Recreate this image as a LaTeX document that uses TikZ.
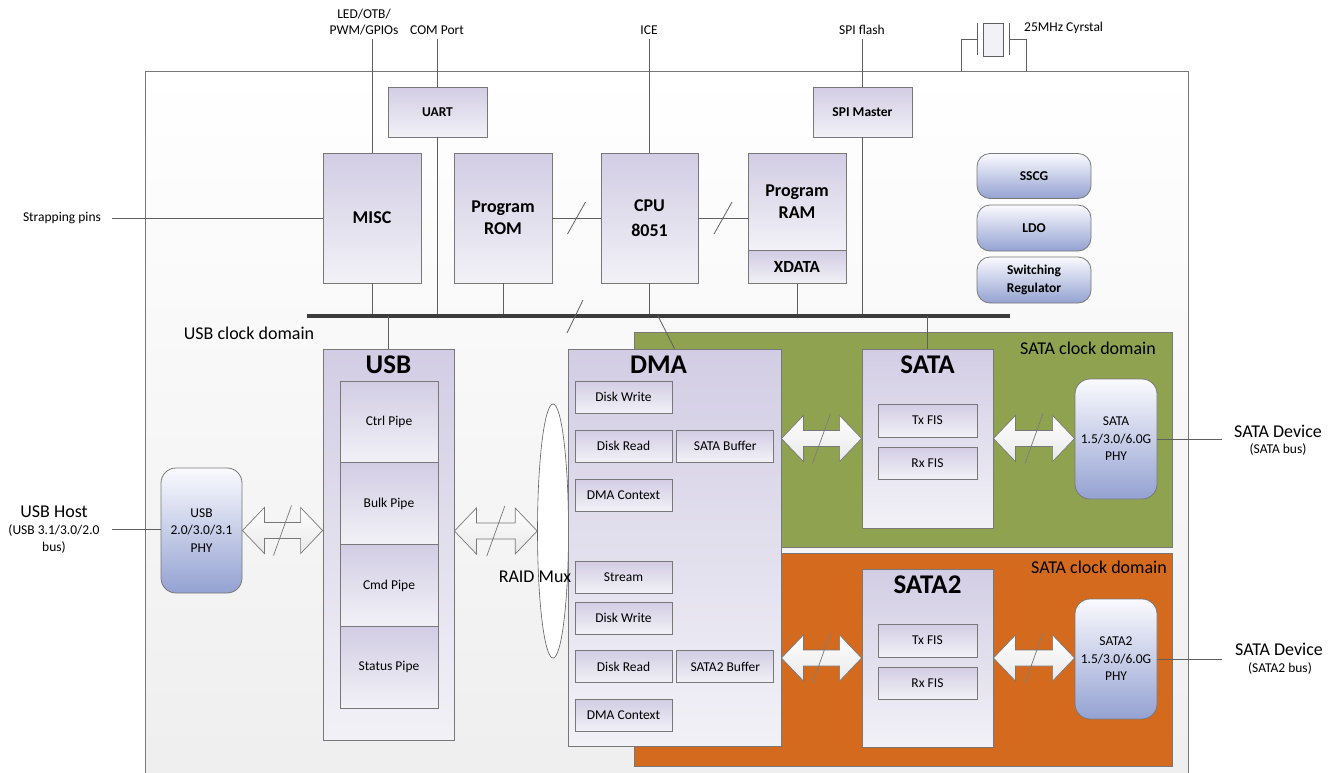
\documentclass[tikz,border=0pt]{standalone}
\usepackage{fontspec}
\setmainfont{Carlito}
\usetikzlibrary{calc,positioning,shapes.geometric}
\definecolor{edgegray}{RGB}{120,120,120}
\definecolor{wiregray}{RGB}{95,95,95}
\definecolor{busgray}{RGB}{60,60,60}
\definecolor{boxtop}{RGB}{210,205,228}
\definecolor{boxbot}{RGB}{242,241,247}
\definecolor{phytop}{RGB}{250,250,254}
\definecolor{phybot}{RGB}{148,162,210}
\definecolor{satagreen}{RGB}{142,162,80}
\definecolor{sataorange}{RGB}{212,106,30}
\definecolor{chipbot}{RGB}{238,238,238}
\newcommand{\fsmall}{\fontsize{13.5}{17.5}\selectfont}
\newcommand{\fmid}{\fontsize{18}{22}\selectfont}
\newcommand{\fbig}{\fontsize{27}{30}\selectfont}
% wide bus arrow with a slash, between two points at the height of the first
\newcommand{\fatlink}[2]{%
  \draw[fatarrow] let \p1=(#1), \p2=(#2), \p3=($(#1)!0.5!(#2)$) in
    (\x1,\y1) -- (\x1+22pt,\y1+23pt) -- (\x1+22pt,\y1+8pt) -- (\x2-22pt,\y1+8pt)
    -- (\x2-22pt,\y1+23pt) -- (\x2,\y1) -- (\x2-22pt,\y1-23pt) -- (\x2-22pt,\y1-8pt)
    -- (\x1+22pt,\y1-8pt) -- (\x1+22pt,\y1-23pt) -- cycle
    (\x3+9pt,\y1+25pt) -- (\x3-9pt,\y1-25pt);}
\tikzset{
  wire/.style={draw=wiregray, line width=0.8pt},
  box/.style={draw=edgegray, line width=0.8pt, top color=boxtop, bottom color=boxbot, inner sep=0pt, align=center},
  cpubox/.style={box, font=\fmid\bfseries},
  subbox/.style={box, font=\fsmall, minimum width=97, minimum height=32},
  bigbox/.style={box},
  ttl/.style={font=\fbig\bfseries, inner sep=0pt},
  phybox/.style={draw=edgegray, line width=0.8pt, rounded corners=15pt, top color=phytop, bottom color=phybot, align=center, font=\fsmall, inner sep=0pt},
  pwrbox/.style={phybox, rounded corners=13pt, font=\fsmall\bfseries, minimum width=114, minimum height=45},
  lbl/.style={font=\fsmall, align=center, inner sep=0pt},
  biglbl/.style={font=\fmid, align=center, inner sep=0pt},
  bus/.style={draw=busgray, line width=4pt},
  fatarrow/.style={draw=edgegray, line width=0.7pt, top color=white, bottom color=gray!18},
  clkdomain/.style={draw=edgegray, line width=0.8pt},
}
\begin{document}
\begin{tikzpicture}[x=1pt,y=-1pt]
\useasboundingbox (0,0) rectangle (1341,772);
% chip and clock domains
\draw[draw=edgegray, line width=0.8pt, top color=white, bottom color=chipbot] (145,71) rectangle (1188,800);
\draw[clkdomain, fill=satagreen] (634,332) rectangle (1172,547);
\draw[clkdomain, fill=sataorange] (634,553) rectangle (1172,766);
\node[biglbl, anchor=east] (gdom) at (1156,348) {SATA clock domain};
\node[biglbl, anchor=east] (odom) at (1167,567) {SATA clock domain};
\node[biglbl] (udom) at (249,333) {USB clock domain};

% crystal
\draw[wire] (961,71) -- (961,39) -- (977,39);
\draw[wire] (977,23) -- (977,55);
\draw[wire, fill=boxbot] (983,23) rectangle (1003,56);
\draw[wire] (1009,23) -- (1009,55);
\draw[wire] (1009,39) -- (1026,39) -- (1026,71);
\node[lbl, anchor=west] (xtal) at (1024,28) {25MHz Cyrstal};

% controller blocks
\node[cpubox, font=\fsmall\bfseries, minimum width=99, minimum height=50] (uart) at (437.5,112) {UART};
\node[cpubox, font=\fsmall\bfseries, minimum width=99, minimum height=50] (spim) at (862.5,112) {SPI Master};
\node[cpubox, minimum width=98, minimum height=130] (misc) at (372,218) {MISC};
\node[cpubox, minimum width=98, minimum height=130] (rom) at (503,218) {Program\\ROM};
\node[cpubox, minimum width=97, minimum height=130] (cpu) at (649.5,218) {CPU\\[3pt]8051};
\node[cpubox, minimum width=98, minimum height=97] (ram) at (797,201.5) {Program\\RAM};
\node[cpubox, font=\fontsize{17}{20}\selectfont\bfseries, minimum width=98, minimum height=33, anchor=north] (xdata) at (ram.south) {XDATA};

% pins
\node[lbl] (led) at (364,22) {LED/OTB/\\[-1.5pt]PWM/GPIOs};
\node[lbl] (com) at (437,30) {COM Port};
\node[lbl] (ice) at (649,30) {ICE};
\node[lbl] (spif) at (862,30) {SPI flash};
\node[lbl] (strap) at (62,218) {Strapping pins};
\coordinate (ledpin) at (372,39);
\draw[wire] (ledpin) -- (misc.north);
\draw[wire] (uart.north |- ledpin) -- (uart.north);
\draw[wire] (cpu.north |- ledpin) -- (cpu.north);
\draw[wire] (spim.north |- ledpin) -- (spim.north);
\draw[wire] ([xshift=11pt]strap.east) -- (misc.west);

% internal bus
\coordinate (busL) at (307,316);
\coordinate (busR) at (1010,316);
\coordinate (dmatap) at (658,316);
\foreach \n in {misc,uart,rom,cpu,xdata,spim}
  \draw[wire] (\n.south) -- (\n.south |- busL);
\draw[bus] (busL) -- (busR);
\draw[wire] (583,300) -- (567,333);
\draw[wire] (rom.east) -- (cpu.west);
\draw[wire] (cpu.east) -- (cpu.east -| ram.west);
\foreach \a/\b in {rom/cpu,cpu/ram}
  \draw[wire] ($(\a.east)!0.5!(\b.west |- \a.east)+(9,-16)$) -- ++(-18,32);

% power
\node[pwrbox] (sscg) at (1034,176) {SSCG};
\node[pwrbox, minimum height=46] (ldo) at (1034,228) {LDO};
\node[pwrbox, minimum height=46] (swreg) at (1034,280) {Switching\\Regulator};

% USB side
\node[bigbox, minimum width=131, minimum height=391] (usb) at (388.5,544.5) {};
\node[ttl] (usbt) at ([yshift=-16pt]usb.north) {USB};
\foreach \p/\t [count=\i] in {ctrl/Ctrl Pipe,bulk/Bulk Pipe,cmd/Cmd Pipe,stat/Status Pipe}
  \node[subbox, minimum width=98, minimum height=82] (\p) at (389,{422+(\i-1)*81.7}) {\t};
\draw[wire] (usb.north |- busL) -- (usb.north);
\node[phybox, minimum width=81, minimum height=125] (uphy) at (201.5,530.5) {USB\\2.0/3.0/3.1\\PHY};
\node[biglbl] (host) at (54,512) {USB Host};
\node[lbl] (hostbus) at (54,539) {(USB 3.1/3.0/2.0\\bus)};
\coordinate (hostpin) at (112,529);
\draw[wire] (hostpin) -- (hostpin -| uphy.west);

% DMA
\node[draw=wiregray, line width=0.6pt, fill=white, ellipse, minimum width=31, minimum height=254, inner sep=0pt] (raid) at (553,531) {};
\node[bigbox, minimum width=213, minimum height=397] (dma) at (674.5,547.5) {};
\node[ttl] (dmat) at ([xshift=-16pt,yshift=-16pt]dma.north) {DMA};
\foreach \n/\y/\t in {dw1/397/Disk Write,dr1/446/Disk Read,dc1/495/DMA Context,st2/577/Stream,dw2/618/Disk Write,dr2/666.5/Disk Read,dc2/715.5/DMA Context}
  \node[subbox] (\n) at (623.5,\y) {\t};
\node[subbox, right=4pt of dr1] (sb1) {SATA Buffer};
\node[subbox, right=4pt of dr2] (sb2) {SATA2 Buffer};
\node[biglbl] (raidl) at (535,577) {RAID Mux};
\draw[wire] (dmatap) -- (dma.north);

% SATA ports
\node[bigbox, minimum width=131, minimum height=179] (sata) at (927.5,438.5) {};
\node[ttl] (satat) at ([yshift=-16pt]sata.north) {SATA};
\node[subbox, minimum width=99, minimum height=33] (tx1) at (927.5,420.5) {Tx FIS};
\node[subbox, minimum width=99] (rx1) at (927.5,463) {Rx FIS};
\node[phybox, minimum width=82, minimum height=120] (sphy1) at (1116,439) {SATA\\1.5/3.0/6.0G\\PHY};
\draw[wire] (sata.north |- busL) -- (sata.north);

\node[bigbox, minimum width=131, minimum height=178] (sata2) at (927.5,658) {};
\node[ttl] (sata2t) at ([yshift=-16pt]sata2.north) {SATA2};
\node[subbox, minimum width=99, minimum height=33] (tx2) at (927.5,640.5) {Tx FIS};
\node[subbox, minimum width=99] (rx2) at (927.5,683) {Rx FIS};
\node[phybox, minimum width=82, minimum height=120] (sphy2) at (1116,659) {SATA2\\1.5/3.0/6.0G\\PHY};

\node[biglbl] (dev1) at (1278,431) {SATA Device};
\node[lbl] (dev1b) at (1278,449) {(SATA bus)};
\coordinate (dev1pin) at (1222,439);
\draw[wire] (sphy1.east) -- (dev1pin);
\node[biglbl] (dev2) at (1279,649) {SATA Device};
\node[lbl] (dev2b) at (1280,668) {(SATA2 bus)};
\coordinate (dev2pin) at (1222,659);
\draw[wire] (sphy2.east) -- (dev2pin);

% wide links
\fatlink{uphy.east}{usb.west |- uphy.east}
\fatlink{usb.east |- raid.west}{raid.west}
\fatlink{dma.east |- sata.west}{sata.west}
\fatlink{sata.east}{sphy1.west |- sata.east}
\fatlink{dma.east |- sata2.west}{sata2.west}
\fatlink{sata2.east}{sphy2.west |- sata2.east}
\end{tikzpicture}
\end{document}
